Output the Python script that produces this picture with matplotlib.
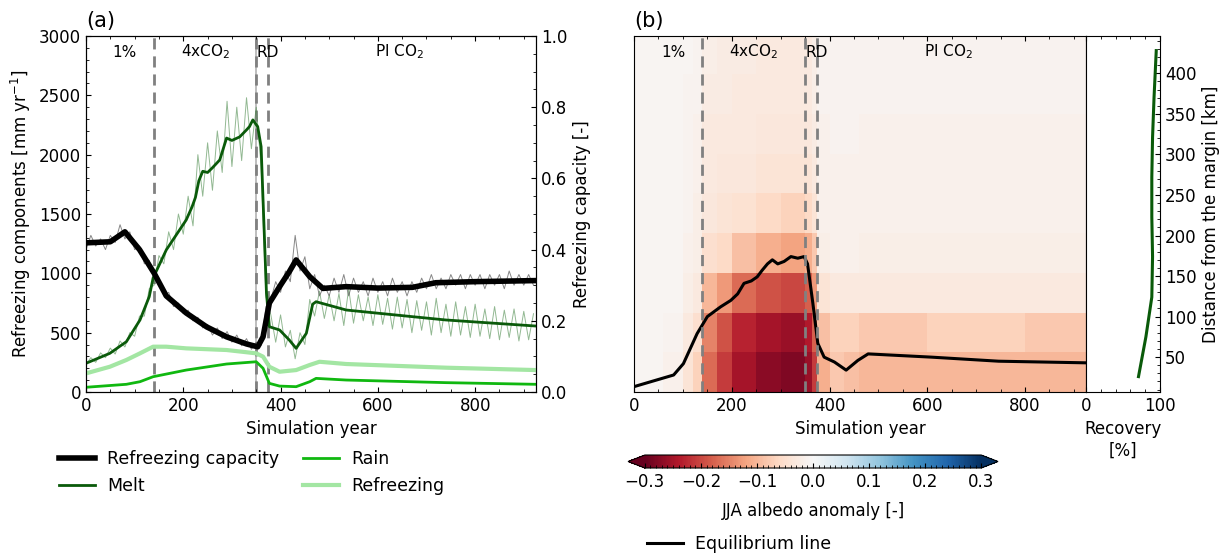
import numpy as np
import matplotlib
matplotlib.use("Agg")
import matplotlib.pyplot as plt
from matplotlib.ticker import MultipleLocator

plt.rcParams['font.family'] = ['DejaVu Sans']
plt.rcParams['xtick.direction'] = 'in'
plt.rcParams['ytick.direction'] = 'in'

# ---- panel (a): smooth series (year, value) ----
cap_year = [0, 50, 80, 110, 140, 165, 206, 248, 289, 330, 353, 364, 377, 398, 418, 432,
            460, 487, 535, 600, 671, 719, 800, 925]
cap_val = [0.419, 0.422, 0.45, 0.40, 0.334, 0.27, 0.222, 0.183, 0.155, 0.135, 0.127, 0.155,
           0.25, 0.296, 0.338, 0.371, 0.324, 0.291, 0.296, 0.292, 0.294, 0.307, 0.31, 0.313]

melt_year = [0, 49, 83, 111, 130, 138, 165, 206, 218, 225, 232, 240, 250, 260, 275, 289, 300,
             316, 330, 336, 343, 353, 360, 364, 371, 377, 398, 418, 432, 453, 466, 473, 535,
             671, 740, 925]
melt_val = [242, 326, 424, 607, 803, 961, 1197, 1450, 1560, 1640, 1780, 1860, 1850, 1890, 1956,
            2140, 2120, 2150, 2209, 2236, 2293, 2236, 2068, 1619, 834, 550, 523, 438, 368, 495,
            740, 761, 691, 635, 607, 556]

rain_year = [0, 83, 111, 138, 206, 289, 350, 364, 377, 398, 432, 460, 473, 535, 740, 925]
rain_val = [40, 65, 87, 129, 185, 236, 255, 200, 73, 50, 45, 87, 115, 101, 79, 65]

refr_year = [0, 49, 83, 111, 138, 165, 206, 289, 350, 364, 377, 398, 432, 460, 480, 535, 740, 925]
refr_val = [157, 213, 270, 326, 382, 382, 368, 354, 326, 298, 213, 171, 185, 228, 255, 236, 205, 185]

# ---- panel (a): annual (noisy) series, every 10 years ----
annual_year = np.arange(0, 921, 10)
melt_annual = [230, 290, 250, 330, 290, 370, 320, 430, 380, 500, 470, 640, 640, 870, 900, 1150,
               1080, 1350, 1200, 1500, 1330, 1650, 1400, 2000, 1650, 2100, 1700, 2200, 1850, 2450,
               1900, 2400, 1950, 2480, 2050, 2400, 1900, 800, 650, 420, 650, 380, 520, 280, 500,
               400, 780, 640, 850, 620, 820, 600, 830, 560, 870, 580, 820, 600, 800, 560, 820,
               570, 790, 530, 800, 540, 780, 500, 770, 520, 760, 480, 790, 500, 740, 470, 760,
               480, 720, 460, 740, 470, 700, 450, 720, 440, 690, 460, 700, 430, 680, 440, 660]
cap_annual = [0.40, 0.44, 0.41, 0.43, 0.40, 0.44, 0.42, 0.47, 0.43, 0.45, 0.40, 0.41, 0.36, 0.37,
              0.32, 0.32, 0.27, 0.28, 0.24, 0.25, 0.22, 0.23, 0.20, 0.21, 0.18, 0.19, 0.16, 0.18,
              0.15, 0.17, 0.14, 0.16, 0.13, 0.15, 0.12, 0.14, 0.13, 0.24, 0.26, 0.31, 0.28, 0.34,
              0.31, 0.44, 0.34, 0.38, 0.29, 0.33, 0.27, 0.30, 0.27, 0.32, 0.28, 0.33, 0.27, 0.32,
              0.28, 0.31, 0.27, 0.32, 0.28, 0.31, 0.27, 0.32, 0.28, 0.31, 0.27, 0.31, 0.28, 0.32,
              0.29, 0.33, 0.29, 0.32, 0.29, 0.33, 0.30, 0.33, 0.29, 0.33, 0.30, 0.33, 0.29, 0.33,
              0.30, 0.33, 0.29, 0.34, 0.30, 0.33, 0.30, 0.33, 0.30]

# ---- periods ----
period_lines = [140, 350, 375]
period_names = ['1%', '4xCO$_2$', 'RD', 'PI CO$_2$']
period_pos = [80, 245, 373, 644]

# ---- panel (b): albedo anomaly heatmap ----
time_edges = [0, 60, 100, 120, 140, 170, 200, 250, 300, 350, 365, 375, 400, 430, 460, 600, 800, 925]
dist_edges = [7, 56, 105, 154, 203, 252, 301, 350, 399, 446]
albedo = [
    [-0.005, -0.015, -0.04, -0.07, -0.17, -0.21, -0.25, -0.27, -0.28, -0.26, -0.21, -0.11, -0.08, -0.09, -0.10, -0.10, -0.10],
    [-0.005, -0.01, -0.03, -0.05, -0.15, -0.19, -0.23, -0.25, -0.26, -0.24, -0.18, -0.09, -0.07, -0.07, -0.08, -0.07, -0.08],
    [-0.005, -0.005, -0.02, -0.03, -0.10, -0.13, -0.17, -0.19, -0.20, -0.18, -0.13, -0.04, -0.03, -0.03, -0.03, -0.03, -0.03],
    [-0.005, -0.005, -0.015, -0.02, -0.05, -0.06, -0.09, -0.11, -0.12, -0.11, -0.08, -0.02, -0.015, -0.015, -0.02, -0.02, -0.02],
    [-0.005, -0.005, -0.01, -0.02, -0.035, -0.04, -0.045, -0.06, -0.07, -0.06, -0.04, -0.015, -0.015, -0.015, -0.015, -0.015, -0.015],
    [-0.005, -0.005, -0.01, -0.015, -0.03, -0.035, -0.035, -0.04, -0.04, -0.04, -0.03, -0.015, -0.015, -0.015, -0.015, -0.015, -0.015],
    [-0.005, -0.005, -0.01, -0.015, -0.03, -0.03, -0.03, -0.035, -0.035, -0.035, -0.025, -0.015, -0.01, -0.01, -0.015, -0.015, -0.015],
    [-0.005, -0.005, -0.01, -0.01, -0.025, -0.025, -0.03, -0.03, -0.03, -0.03, -0.02, -0.01, -0.01, -0.01, -0.01, -0.01, -0.01],
    [-0.005, -0.005, -0.005, -0.01, -0.02, -0.025, -0.025, -0.03, -0.03, -0.03, -0.02, -0.01, -0.01, -0.01, -0.01, -0.01, -0.01],
]

ela_year = [2, 81, 101, 129, 150, 177, 198, 212, 225, 240, 252, 262, 273, 283, 294, 307, 321,
            335, 348, 355, 366, 376, 389, 410, 434, 458, 479, 609, 746, 925]
ela_dist = [14, 28, 42, 79, 100, 112, 120, 128, 141, 144, 149, 157, 165, 170, 165, 168, 174,
            172, 174, 165, 116, 67, 50, 44, 34, 46, 54, 50, 45, 43]

rec_dist = [26, 75, 124, 174, 223, 272, 321, 370, 428]
rec_pct = [71, 81, 89, 90, 89, 89, 90, 92, 95]

fs = 12
fig = plt.figure(figsize=(12.25, 5.53), dpi=100)

# ================= panel (a) =================
ax = fig.add_axes([0.0702, 0.2911, 0.3673, 0.6438])
ax2 = ax.twinx()

ax.plot(refr_year, refr_val, color='#a3e6a3', lw=3, label='Refreezing', zorder=3)
ax.plot(rain_year, rain_val, color='#10b810', lw=2, label='Rain', zorder=3)
ax.plot(annual_year, melt_annual, color='#4a8a4a', lw=0.7, alpha=0.6, zorder=2)
ax.plot(melt_year, melt_val, color='#0a5a0a', lw=2, label='Melt', zorder=4)
ax2.plot(annual_year, cap_annual, color='#555555', lw=0.7, alpha=0.7)
ax2.plot(cap_year, cap_val, color='black', lw=4, label='Refreezing capacity')

for x in period_lines:
    ax.axvline(x, color='gray', ls='--', lw=2, dashes=(4, 2.5), zorder=1)
ax.axvline(350, color='gray', lw=1.2, alpha=0.6, zorder=1)
for name, pos in zip(period_names, period_pos):
    ax.text(pos, 0.955, name, transform=ax.get_xaxis_transform(), ha='center', va='center', fontsize=11)

ax.set_xlim(0, 925)
ax.set_ylim(0, 3000)
ax2.set_ylim(0, 1.0)
ax.xaxis.set_major_locator(MultipleLocator(200))
ax.xaxis.set_minor_locator(MultipleLocator(50))
ax.yaxis.set_major_locator(MultipleLocator(500))
ax.yaxis.set_minor_locator(MultipleLocator(100))
ax2.yaxis.set_major_locator(MultipleLocator(0.2))
ax2.yaxis.set_minor_locator(MultipleLocator(0.05))
ax.tick_params(which='both', top=True, labelsize=fs)
ax2.tick_params(which='both', labelsize=fs)
ax.set_xlabel('Simulation year', fontsize=fs)
ax.set_ylabel('Refreezing components [mm yr$^{-1}$]', fontsize=fs)
ax2.set_ylabel('Refreezing capacity [-]', fontsize=fs)
ax.text(0, 1.015, '(a)', transform=ax.transAxes, fontsize=15, va='bottom')

h1, l1 = ax2.get_legend_handles_labels()
h0, l0 = ax.get_legend_handles_labels()
hd = dict(zip(l1 + l0, h1 + h0))
order = ['Refreezing capacity', 'Melt', 'Rain', 'Refreezing']
fig.legend([hd[k] for k in order], order, loc='upper left', bbox_to_anchor=(0.035, 0.215),
           ncol=2, frameon=False, fontsize=12.5, handlelength=2.1, columnspacing=1.35,
           labelspacing=0.55, handletextpad=0.7)

# ================= panel (b) =================
axb = fig.add_axes([0.5176, 0.2911, 0.369, 0.6438])
mesh = axb.pcolormesh(time_edges, dist_edges, np.array(albedo), cmap='RdBu', vmin=-0.3, vmax=0.3)
ela, = axb.plot(ela_year, ela_dist, color='black', lw=2.2)
for x in period_lines:
    axb.axvline(x, color='gray', ls='--', lw=2, dashes=(4, 2.5))
for name, pos in zip(period_names, period_pos):
    axb.text(pos, 0.955, name, transform=axb.get_xaxis_transform(), ha='center', va='center', fontsize=11)
axb.set_xlim(0, 925)
axb.set_ylim(7, 446)
axb.xaxis.set_major_locator(MultipleLocator(200))
axb.xaxis.set_minor_locator(MultipleLocator(50))
axb.tick_params(which='both', top=True, labelsize=fs)
axb.tick_params(axis='y', which='both', left=False, labelleft=False)
axb.set_xlabel('Simulation year', fontsize=fs)
axb.text(0, 1.015, '(b)', transform=axb.transAxes, fontsize=15, va='bottom')

axr = fig.add_axes([0.8865, 0.2911, 0.0604, 0.6438])
axr.plot(rec_pct, rec_dist, color='#0a5a0a', lw=2.2)
axr.set_xlim(0, 100)
axr.set_ylim(7, 446)
axr.set_xticks([0, 100])
axr.xaxis.set_minor_locator(MultipleLocator(20))
axr.yaxis.set_major_locator(MultipleLocator(50))
axr.yaxis.set_minor_locator(MultipleLocator(10))
axr.yaxis.tick_right()
axr.yaxis.set_label_position('right')
axr.tick_params(which='both', top=True, labelsize=fs)
axr.tick_params(axis='y', which='both', left=False, right=True)
axr.set_xlabel('Recovery\n[%]', fontsize=fs)
axr.set_ylabel('Distance from the margin [km]', fontsize=fs)

cax = fig.add_axes([0.5127, 0.1537, 0.302, 0.0235])
cb = fig.colorbar(mesh, cax=cax, orientation='horizontal', extend='both')
cb.set_ticks([-0.3, -0.2, -0.1, 0.0, 0.1, 0.2, 0.3])
cb.ax.xaxis.set_minor_locator(MultipleLocator(0.01))
cb.ax.tick_params(labelsize=fs)
cb.set_label('JJA albedo anomaly [-]', fontsize=fs, labelpad=8)

fig.legend([ela], ['Equilibrium line'], loc='upper left', bbox_to_anchor=(0.515, 0.06),
           frameon=False, fontsize=12.5, handlelength=2.1, handletextpad=0.7)

fig.savefig('out.png', dpi=100)
